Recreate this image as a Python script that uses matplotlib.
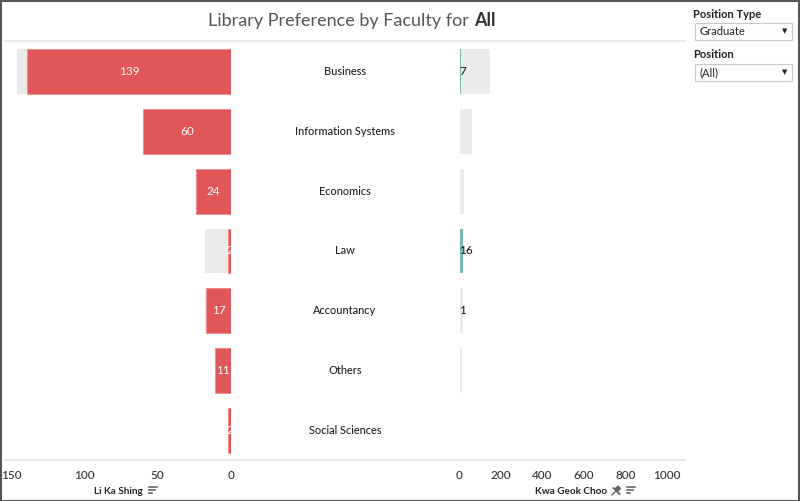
import matplotlib
matplotlib.use("Agg")
import matplotlib.pyplot as plt
from matplotlib.patches import Rectangle, Polygon
from matplotlib.lines import Line2D

categories = ["Business", "Information Systems", "Economics", "Law",
              "Accountancy", "Others", "Social Sciences"]
li_ka_shing = [139, 60, 24, 2, 17, 11, 2]
kwa_geok_choo = [7, 0, 0, 16, 1, 0, 0]
totals = [a + b for a, b in zip(li_ka_shing, kwa_geok_choo)]
kwa_labels = ["7", "", "", "16", "1", "", ""]
left_ticks = [150, 100, 50, 0]
right_ticks = [0, 200, 400, 600, 800, 1000]

RED = "#E15759"
TEAL = "#76B7B2"
GRAY = "#EBEBEB"
TXT = "#333333"

plt.rcParams['font.family'] = ['Lato', 'DejaVu Sans']

W, H = 800, 501
fig = plt.figure(figsize=(W / 100, H / 100), dpi=100)


def rect(x0, y0, x1, y1):
    return [x0 / W, 1 - y1 / H, (x1 - x0) / W, (y1 - y0) / H]


def fx(x):
    return x / W


def fy(y):
    return 1 - y / H


n = len(categories)
ypos = list(range(n))
bh = 0.75

# Left axis (Li Ka Shing)
axL = fig.add_axes(rect(11, 42, 231, 460))
axL.barh(ypos, totals, height=bh, color=GRAY, zorder=1)
axL.barh(ypos, li_ka_shing, height=bh, color=RED, edgecolor="#F08A8B",
         linewidth=0.6, zorder=2)
for y, v in zip(ypos, li_ka_shing):
    axL.text(v / 2, y, str(v), ha="center", va="center", color="white",
             fontsize=8.5, zorder=3)
axL.set_xlim(150, 0)
axL.set_ylim(n - 0.5, -0.5)
axL.set_xticks(left_ticks)
axL.set_xticklabels([str(t) for t in left_ticks])
axL.set_yticks([])
axL.tick_params(axis="x", length=0, pad=7, labelsize=8.5, labelcolor=TXT)
for lab in axL.get_xticklabels():
    lab.set_fontweight("medium")
for s in axL.spines.values():
    s.set_visible(False)
axL.patch.set_alpha(0)

# Middle labels
axM = fig.add_axes(rect(231, 42, 459, 460))
axM.set_xlim(0, 1)
axM.set_ylim(n - 0.5, -0.5)
for y, c in zip(ypos, categories):
    axM.text(0.5, y, c, ha="center", va="center", fontsize=7.9,
             color="#222222", fontweight="medium")
axM.axis("off")

# Right axis (Kwa Geok Choo)
axR = fig.add_axes(rect(459.5, 42, 685, 460))
axR.barh(ypos, totals, height=bh, color=GRAY, zorder=1)
axR.barh(ypos, kwa_geok_choo, height=bh, color=TEAL, zorder=2)
for y, lab in zip(ypos, kwa_labels):
    if lab:
        axR.text(0, y, lab, ha="left", va="center", color="#111111",
                 fontsize=8.5, zorder=3)
axR.set_xlim(0, (685 - 459.5) / 0.2075)
axR.set_ylim(n - 0.5, -0.5)
axR.set_xticks(right_ticks)
axR.set_xticklabels([str(t) for t in right_ticks])
axR.set_yticks([])
axR.tick_params(axis="x", length=0, pad=7, labelsize=8.5, labelcolor=TXT)
for lab in axR.get_xticklabels():
    lab.set_fontweight("medium")
for s in axR.spines.values():
    s.set_visible(False)
axR.patch.set_alpha(0)

# Title (centered at x=352)
t1 = fig.text(0, fy(21), "Library Preference by Faculty for ",
              ha="left", va="center", fontsize=13, color="#555555",
              fontweight="normal")
t2 = fig.text(0, fy(21), "All", ha="left", va="center", fontsize=13,
              color="#333333", fontweight="bold")
fig.canvas.draw()
r = fig.canvas.get_renderer()
w1 = t1.get_window_extent(r).width
w2 = t2.get_window_extent(r).width
x0 = 352 - (w1 + w2) / 2
t1.set_x(fx(x0))
t2.set_x(fx(x0 + w1))

# Lines
fig.add_artist(Line2D([fx(5), fx(685)], [fy(41), fy(41)], color="#E6E6E6",
                      lw=1.2))
fig.add_artist(Line2D([fx(5), fx(685)], [fy(460), fy(460)], color="#E0E0E0",
                      lw=1.2))

# Axis titles
fig.text(fx(118), fy(491), "Li Ka Shing", ha="center", va="center",
         fontsize=7.2, fontweight="bold", color="#222222")
fig.text(fx(571), fy(491), "Kwa Geok Choo", ha="center", va="center",
         fontsize=7.2, fontweight="bold", color="#222222")


def sort_icon(x, y):
    for i, L in enumerate([8, 6, 3]):
        fig.add_artist(Line2D([fx(x), fx(x + L)], [fy(y + i * 3), fy(y + i * 3)],
                              color="#666666", lw=1.2))


sort_icon(149, 487)
sort_icon(627, 487)
# pin icon
fig.add_artist(Line2D([fx(612), fx(616)], [fy(495), fy(491)], color="#666666", lw=1.0))
fig.add_artist(Polygon([(fx(615), fy(489)), (fx(618), fy(486)), (fx(620.5), fy(488.5)),
                        (fx(617.5), fy(491.5))], closed=True,
                       transform=fig.transFigure, color="#666666"))
fig.add_artist(Line2D([fx(613.5), fx(619.5)], [fy(488), fy(494)], color="#666666", lw=1.3))

# Right panel filters
fig.text(fx(693), fy(14), "Position Type", ha="left", va="center",
         fontsize=8, fontweight="bold", color="#222222")
fig.add_artist(Rectangle((fx(695), fy(40)), fx(97), 17 / H, transform=fig.transFigure,
                         facecolor="white", edgecolor="#C8C8C8", lw=0.8))
fig.text(fx(699), fy(31.5), "Graduate", ha="left", va="center", fontsize=8,
         color="#222222")
fig.text(fx(785), fy(31.5), "▼", ha="center", va="center", fontsize=5,
         color="#222222", family="DejaVu Sans")

fig.text(fx(693), fy(55), "Position", ha="left", va="center",
         fontsize=8, fontweight="bold", color="#222222")
fig.add_artist(Rectangle((fx(695), fy(81)), fx(97), 17 / H, transform=fig.transFigure,
                         facecolor="white", edgecolor="#C8C8C8", lw=0.8))
fig.text(fx(699), fy(72.5), "(All)", ha="left", va="center", fontsize=8,
         color="#222222")
fig.text(fx(785), fy(72.5), "▼", ha="center", va="center", fontsize=5,
         color="#222222", family="DejaVu Sans")

# Outer border
fig.add_artist(Rectangle((0.5 / W, 0.5 / H), 1 - 1.5 / W, 1 - 1.5 / H,
                         transform=fig.transFigure, fill=False,
                         edgecolor="#555555", lw=1.5))

fig.savefig("out.png", dpi=100)
